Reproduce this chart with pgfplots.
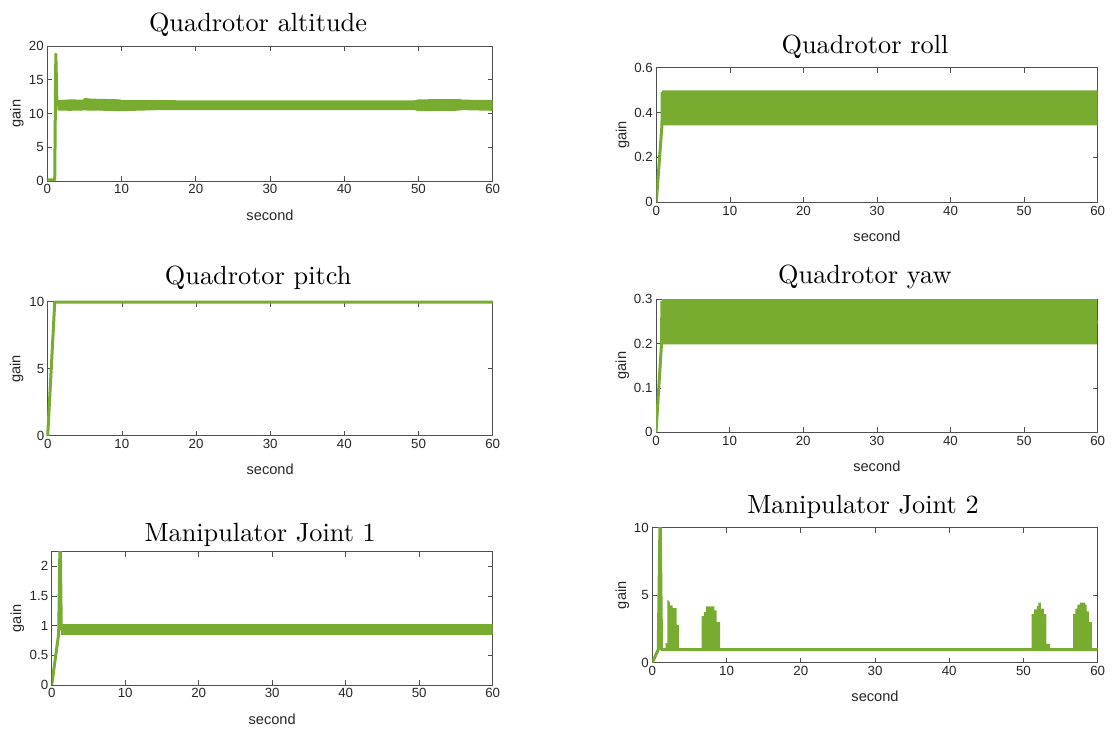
\documentclass[border=0pt]{standalone}
\usepackage{fontspec}
\usepackage{graphicx}
\usepackage{pgfplots}
\pgfplotsset{compat=1.18}
\newfontfamily\arialf{Liberation Sans}
\definecolor{mgreen}{RGB}{119,172,48}
\definecolor{axgray}{RGB}{80,80,80}
\definecolor{txtgray}{RGB}{38,38,38}
\pgfplotsset{
  mstyle/.style={
    scale only axis, anchor=south west,
    xmin=0, xmax=60, xtick={0,10,...,60},
    axis line style={draw=axgray, line width=0.6pt},
    every tick/.style={draw=axgray, line width=0.6pt},
    major tick length=5pt,
    tick align=inside,
    xtick pos=both, ytick pos=both,
    xticklabel pos=lower, yticklabel pos=left,
    ticklabel style={font=\arialf\fontsize{13.3}{15}\selectfont, text=txtgray},
    /pgf/number format/assume math mode=true,
    every axis x label/.style={at={(axis description cs:0.5,0)}, anchor=base, yshift=-39pt,
      font=\arialf\fontsize{14.6}{17}\selectfont, text=txtgray},
    xlabel={second}, ylabel={gain},
  },
  ylab/.style={every axis y label/.style={at={(axis description cs:0,0.5)}, xshift=-#1, rotate=90, anchor=base,
      font=\arialf\fontsize{14.6}{17}\selectfont, text=txtgray}},
  ttl/.style={every axis title/.style={at={(axis description cs:0.5,1)}, anchor=base, xshift=-12pt, yshift=#1, font=\rmfamily\fontsize{10}{12}\selectfont, text=black}},
}
\begin{document}
\begin{tikzpicture}
\useasboundingbox (0pt,0pt) rectangle (1113pt,-731pt);

% Quadrotor altitude
\begin{axis}[mstyle, at={(47.3pt,-181pt)}, width=445.4pt, height=135pt,
  ymin=0, ymax=20, ytick={0,5,10,15,20},
  ttl=14.7pt, ylab=26.6pt, title={\scalebox{2.63}{Quadrotor altitude}}]
\addplot[draw=none, fill=mgreen] coordinates {
 (1.35,10.45) (3,10.4) (5,10.45) (8,10.4) (10,10.35) (15,10.5) (20,10.5) (30,10.5) (40,10.5)
 (49.5,10.5) (50,10.35) (55,10.4) (56,10.5) (60,10.4)
 (60,12.0) (56,12.05) (55.5,12.15) (50,12.1) (49.5,11.95) (40,11.95) (30,11.95) (20,11.95)
 (10,12.0) (9.8,12.1) (8,12.15) (6,12.2) (5,12.3) (4.8,12.05) (3,12.1) (2,12.0) (1.35,12.0)};
\addplot[mgreen, line width=3pt, line join=round] coordinates {
 (0,0.15) (1.0,0.15) (1.15,18.8) (1.3,11.3) (1.6,11.3)};
\end{axis}

% Quadrotor roll
\begin{axis}[mstyle, at={(656.3pt,-202.3pt)}, width=441.4pt, height=134.8pt,
  ymin=0, ymax=0.6, ytick={0,0.2,0.4,0.6},
  ttl=14pt, ylab=30pt, title={\scalebox{2.63}{Quadrotor roll}}]
\addplot[draw=none, fill=mgreen] coordinates {
 (0.77,0.342) (60,0.342) (60,0.498) (0.8,0.498)};
\addplot[mgreen, line width=3pt, line join=round] coordinates {
 (0,0) (0.77,0.345) (0.8,0.49)};
\end{axis}

% Quadrotor pitch
\begin{axis}[mstyle, at={(47.7pt,-435.7pt)}, width=445pt, height=134pt,
  ymin=0, ymax=10, ytick={0,5,10}, clip=false,
  ttl=17.7pt, ylab=27.3pt, title={\scalebox{2.63}{Quadrotor pitch}}]
\addplot[mgreen, line width=3pt, line join=round] coordinates {
 (0,0) (0.95,9.97) (60,9.97)};
\end{axis}

% Quadrotor yaw
\begin{axis}[mstyle, at={(656pt,-432.3pt)}, width=441.7pt, height=133.3pt,
  ymin=0, ymax=0.3, ytick={0,0.1,0.2,0.3},
  ttl=16pt, ylab=30pt, title={\scalebox{2.63}{Quadrotor yaw}}]
\addplot[draw=none, fill=mgreen] coordinates {
 (0.75,0.198) (59.9,0.198) (59.9,0.3) (0.8,0.3)};
\addplot[mgreen, line width=3pt, line join=round] coordinates {
 (0,0) (0.75,0.2) (0.8,0.295)};
\addplot[mgreen, line width=3pt] coordinates {(59.85,0.25) (60,0.245)};
\end{axis}

% Manipulator Joint 1
\begin{axis}[mstyle, at={(51.7pt,-685pt)}, width=441pt, height=133.3pt,
  ymin=0, ymax=2.245, ytick={0,0.5,1,1.5,2},
  ttl=10.4pt, ylab=30.6pt, title={\scalebox{2.63}{Manipulator Joint 1}}]
\addplot[draw=none, fill=mgreen] coordinates {
 (1.3,0.845) (60,0.845) (60,1.03) (1.3,1.03)};
\addplot[mgreen, line width=3pt, line join=round] coordinates {
 (0,0) (0.95,0.86) (1.15,2.6) (1.3,0.95) (1.5,0.93)};
\end{axis}

% Manipulator Joint 2
\begin{axis}[mstyle, at={(652.3pt,-662.7pt)}, width=445.4pt, height=135pt,
  ymin=0, ymax=10, ytick={0,5,10},
  ttl=14.4pt, ylab=26.3pt, title={\scalebox{2.63}{Manipulator Joint 2}}]
\addplot[draw=none, fill=mgreen] coordinates {
 (1.8,0.97) (1.8,1.45) (2.02,1.45) (2.02,4.65) (2.2,4.6) (2.38,4.45) (2.38,4.25) (2.74,4.25)
 (2.74,4.05) (3.28,4.05) (3.28,2.8) (3.59,2.8) (3.59,0.97)};
\addplot[draw=none, fill=mgreen] coordinates {
 (6.65,0.97) (6.65,3.45) (6.96,3.45) (6.96,3.75) (7.23,3.75) (7.23,4.18) (8.35,4.18)
 (8.35,3.88) (8.67,3.88) (8.67,3.0) (9.15,3.0) (9.15,0.97)};
\addplot[draw=none, fill=mgreen] coordinates {
 (51.1,0.97) (51.1,3.6) (51.45,3.6) (51.45,3.95) (51.8,3.95) (51.8,4.2) (52.0,4.2)
 (52.0,4.45) (52.35,4.45) (52.35,4.0) (52.75,4.0) (52.75,3.6) (53.1,3.6) (53.1,1.4)
 (53.6,1.4) (53.6,0.97)};
\addplot[draw=none, fill=mgreen] coordinates {
 (56.7,0.97) (56.7,3.6) (57.0,3.6) (57.0,4.0) (57.25,4.0) (57.25,4.3) (57.6,4.3)
 (57.6,4.45) (58.3,4.45) (58.3,4.3) (58.5,4.3) (58.5,3.8) (58.8,3.8) (58.8,3.0)
 (59.2,3.0) (59.2,0.97)};
\addplot[mgreen, line width=3pt, line join=round] coordinates {
 (0,0) (0.8,0.97) (1.05,11) (1.25,0.97) (60,0.97)};
\end{axis}
\end{tikzpicture}
\end{document}
